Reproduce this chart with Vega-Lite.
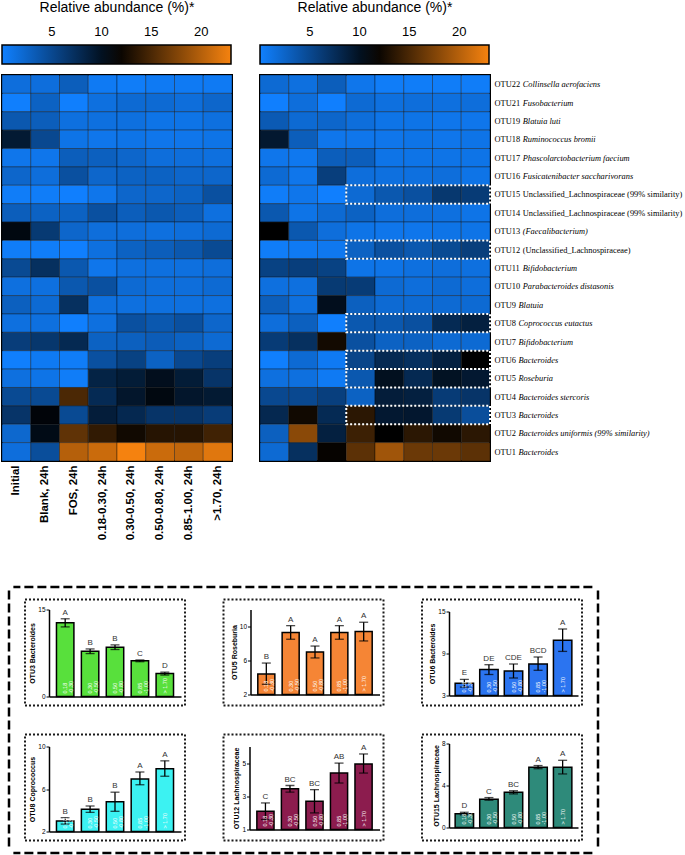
{
  "$schema": "https://vega.github.io/schema/vega-lite/v6.json",
  "background": "white",
  "padding": {"left": 0, "top": 0, "right": 0, "bottom": 0},
  "config": {
    "font": "Liberation Sans",
    "view": {"stroke": null},
    "axis": {"labelColor": "black", "titleColor": "black", "grid": false},
    "legend": {"labelColor": "black", "titleColor": "black"}
  },
  "datasets": {
    "heat": [
      {"lab":"OTU22 Collinsella aerofaciens","t":"24h","c1":1.6,"c2":1.6,"c3":3.05,"c4":0.54,"c5":0.3,"c6":0.54,"c7":0.54,"c8":0.54},
      {"lab":"OTU21 Fusobacterium","t":"24h","c1":0.1,"c2":2.7,"c3":0.1,"c4":1.44,"c5":1.98,"c6":1.98,"c7":1.62,"c8":2.34},
      {"lab":"OTU19 Blatuia luti","t":"24h","c1":3.6,"c2":3.05,"c3":1.44,"c4":1.44,"c5":1.44,"c6":1.08,"c7":1.08,"c8":1.44},
      {"lab":"OTU18 Ruminococcus bromii","t":"24h","c1":9.2,"c2":5.0,"c3":1.08,"c4":0.9,"c5":1.08,"c6":0.9,"c7":0.9,"c8":1.08},
      {"lab":"OTU17 Phascolarctobacterium faecium","t":"24h","c1":0.9,"c2":0.9,"c3":3.05,"c4":2.9,"c5":2.34,"c6":1.62,"c7":1.62,"c8":1.44},
      {"lab":"OTU16 Fusicatenibacter saccharivorans","t":"24h","c1":2.34,"c2":1.62,"c3":4.3,"c4":2.34,"c5":2.7,"c6":2.7,"c7":2.34,"c8":2.34},
      {"lab":"OTU15 Unclassified_Lachnospiraceae (99% similarity)","t":"24h","c1":0.3,"c2":0.3,"c3":0.05,"c4":0.9,"c5":2.34,"c6":2.34,"c7":2.7,"c8":4.3},
      {"lab":"OTU14 Unclassified_Lachnospiraceae (99% similarity)","t":"24h","c1":3.05,"c2":2.7,"c3":2.7,"c4":4.3,"c5":3.05,"c6":3.6,"c7":3.05,"c8":1.44},
      {"lab":"OTU13 (Faecalibacterium)","t":"24h","c1":10.8,"c2":6.3,"c3":2.34,"c4":1.62,"c5":1.62,"c6":1.44,"c7":1.62,"c8":1.98},
      {"lab":"OTU12 (Unclassified_Lachnospiraceae)","t":"24h","c1":0.3,"c2":0.3,"c3":0.05,"c4":1.44,"c5":2.7,"c6":3.05,"c7":3.6,"c8":4.85},
      {"lab":"OTU11 Bifidobacterium","t":"24h","c1":4.85,"c2":7.2,"c3":3.6,"c4":0.9,"c5":1.44,"c6":1.44,"c7":1.44,"c8":1.62},
      {"lab":"OTU10 Parabacteroides distasonis","t":"24h","c1":1.44,"c2":1.44,"c3":3.6,"c4":4.3,"c5":1.98,"c6":1.62,"c7":1.62,"c8":1.98},
      {"lab":"OTU9 Blatuia","t":"24h","c1":2.9,"c2":1.98,"c3":7.2,"c4":1.44,"c5":1.44,"c6":1.44,"c7":1.44,"c8":1.44},
      {"lab":"OTU8 Coprococcus eutactus","t":"24h","c1":1.44,"c2":1.44,"c3":0.1,"c4":1.44,"c5":4.3,"c6":3.6,"c7":4.3,"c8":2.34},
      {"lab":"OTU7 Bifidobacterium","t":"24h","c1":6.0,"c2":6.6,"c3":7.8,"c4":2.7,"c5":2.9,"c6":3.2,"c7":2.7,"c8":1.98},
      {"lab":"OTU6 Bacteroides","t":"24h","c1":0.1,"c2":0.54,"c3":0.3,"c4":4.3,"c5":5.6,"c6":2.7,"c7":5.0,"c8":5.9},
      {"lab":"OTU5 Roseburia","t":"24h","c1":1.44,"c2":1.08,"c3":0.3,"c4":8.4,"c5":9.0,"c6":10.2,"c7":9.0,"c8":6.8},
      {"lab":"OTU4 Bacteroides stercoris","t":"24h","c1":4.85,"c2":4.85,"c3":15.0,"c4":7.7,"c5":9.5,"c6":10.8,"c7":9.5,"c8":9.2},
      {"lab":"OTU3 Bacteroides","t":"24h","c1":6.8,"c2":11.1,"c3":4.85,"c4":8.9,"c5":7.9,"c6":6.8,"c7":6.8,"c8":6.1},
      {"lab":"OTU2 Bacteroides uniformis (99% similarity)","t":"24h","c1":2.2,"c2":10.5,"c3":16.0,"c4":13.8,"c5":12.3,"c6":13.3,"c7":13.3,"c8":14.5},
      {"lab":"OTU1 Bacteroides","t":"24h","c1":1.6,"c2":4.5,"c3":20.0,"c4":21.0,"c5":23.0,"c6":21.0,"c7":20.5,"c8":22.0},
      {"lab":"OTU22 Collinsella aerofaciens","t":"48h","c1":1.98,"c2":1.44,"c3":3.05,"c4":0.9,"c5":0.3,"c6":0.3,"c7":0.3,"c8":0.3},
      {"lab":"OTU21 Fusobacterium","t":"48h","c1":0.05,"c2":1.62,"c3":0.05,"c4":1.98,"c5":1.44,"c6":1.62,"c7":1.44,"c8":1.62},
      {"lab":"OTU19 Blatuia luti","t":"48h","c1":3.4,"c2":1.98,"c3":2.34,"c4":1.62,"c5":1.08,"c6":1.08,"c7":0.9,"c8":0.9},
      {"lab":"OTU18 Ruminococcus bromii","t":"48h","c1":9.35,"c2":3.05,"c3":0.9,"c4":0.9,"c5":0.9,"c6":1.08,"c7":0.9,"c8":1.08},
      {"lab":"OTU17 Phascolarctobacterium faecium","t":"48h","c1":0.9,"c2":0.72,"c3":3.05,"c4":3.05,"c5":1.08,"c6":1.08,"c7":1.08,"c8":1.08},
      {"lab":"OTU16 Fusicatenibacter saccharivorans","t":"48h","c1":1.98,"c2":0.9,"c3":5.9,"c4":1.62,"c5":1.44,"c6":1.44,"c7":1.62,"c8":1.08},
      {"lab":"OTU15 Unclassified_Lachnospiraceae (99% similarity)","t":"48h","c1":0.3,"c2":0.9,"c3":0.05,"c4":1.98,"c5":3.6,"c6":4.3,"c7":6.5,"c8":6.2},
      {"lab":"OTU14 Unclassified_Lachnospiraceae (99% similarity)","t":"48h","c1":3.6,"c2":1.08,"c3":1.98,"c4":2.7,"c5":1.62,"c6":1.62,"c7":1.44,"c8":1.08},
      {"lab":"OTU13 (Faecalibacterium)","t":"48h","c1":11.5,"c2":3.6,"c3":1.62,"c4":1.08,"c5":0.9,"c6":0.9,"c7":1.08,"c8":1.08},
      {"lab":"OTU12 (Unclassified_Lachnospiraceae)","t":"48h","c1":0.3,"c2":0.54,"c3":0.72,"c4":2.7,"c5":4.3,"c6":3.6,"c7":4.85,"c8":5.9},
      {"lab":"OTU11 Bifidobacterium","t":"48h","c1":5.6,"c2":5.9,"c3":5.6,"c4":1.08,"c5":1.08,"c6":1.44,"c7":1.62,"c8":1.44},
      {"lab":"OTU10 Parabacteroides distasonis","t":"48h","c1":1.44,"c2":1.44,"c3":6.3,"c4":6.2,"c5":1.98,"c6":1.62,"c7":1.98,"c8":1.62},
      {"lab":"OTU9 Blatuia","t":"48h","c1":3.05,"c2":1.44,"c3":10.2,"c4":2.9,"c5":1.98,"c6":1.98,"c7":1.98,"c8":1.98},
      {"lab":"OTU8 Coprococcus eutactus","t":"48h","c1":1.62,"c2":2.9,"c3":0.1,"c4":3.6,"c5":3.6,"c6":4.3,"c7":7.7,"c8":8.6},
      {"lab":"OTU7 Bifidobacterium","t":"48h","c1":6.2,"c2":7.2,"c3":12.4,"c4":4.3,"c5":2.7,"c6":2.7,"c7":1.98,"c8":1.98},
      {"lab":"OTU6 Bacteroides","t":"48h","c1":0.1,"c2":1.98,"c3":0.54,"c4":5.3,"c5":7.8,"c6":7.2,"c7":8.6,"c8":11.5},
      {"lab":"OTU5 Roseburia","t":"48h","c1":1.44,"c2":1.44,"c3":0.54,"c4":3.6,"c5":10.1,"c6":7.8,"c7":9.9,"c8":9.3},
      {"lab":"OTU4 Bacteroides stercoris","t":"48h","c1":5.0,"c2":5.0,"c3":5.8,"c4":2.7,"c5":8.9,"c6":8.6,"c7":6.2,"c8":6.8},
      {"lab":"OTU3 Bacteroides","t":"48h","c1":7.9,"c2":12.3,"c3":7.7,"c4":13.5,"c5":9.3,"c6":9.4,"c7":6.3,"c8":4.5},
      {"lab":"OTU2 Bacteroides uniformis (99% similarity)","t":"48h","c1":2.9,"c2":18.0,"c3":8.6,"c4":14.3,"c5":11.5,"c6":13.5,"c7":12.3,"c8":13.5},
      {"lab":"OTU1 Bacteroides","t":"48h","c1":2.0,"c2":7.2,"c3":11.8,"c4":15.8,"c5":19.0,"c6":16.5,"c7":16.5,"c8":15.8}
    ],
    "boxes": [
      {"lab":"OTU15 Unclassified_Lachnospiraceae (99% similarity)","from":"c4","to":"c8"},
      {"lab":"OTU12 (Unclassified_Lachnospiraceae)","from":"c4","to":"c8"},
      {"lab":"OTU8 Coprococcus eutactus","from":"c4","to":"c8"},
      {"lab":"OTU6 Bacteroides","from":"c4","to":"c8"},
      {"lab":"OTU5 Roseburia","from":"c4","to":"c8"},
      {"lab":"OTU3 Bacteroides","from":"c4","to":"c8"}
    ],
    "frame": [{"edge": 0}],
    "bars": [
      {"otu":"OTU3","g":"0.18-0.30","lbl":"0.18\n-0.30","mean":12.7,"lo":12.0,"hi":13.4,"sig":"A"},
      {"otu":"OTU3","g":"0.30-0.50","lbl":"0.30\n-0.50","mean":7.8,"lo":7.4,"hi":8.2,"sig":"B"},
      {"otu":"OTU3","g":"0.50-0.80","lbl":"0.50\n-0.80","mean":8.5,"lo":8.1,"hi":8.9,"sig":"B"},
      {"otu":"OTU3","g":"0.85-1.00","lbl":"0.85\n-1.00","mean":6.15,"lo":6.0,"hi":6.3,"sig":"C"},
      {"otu":"OTU3","g":">1.70","lbl":"> 1.70","mean":3.95,"lo":3.7,"hi":4.2,"sig":"D"},
      {"otu":"OTU5","g":"0.18-0.30","lbl":"0.18\n-0.30","mean":4.4,"lo":3.2,"hi":5.7,"sig":"B"},
      {"otu":"OTU5","g":"0.30-0.50","lbl":"0.30\n-0.50","mean":9.3,"lo":8.5,"hi":10.1,"sig":"A"},
      {"otu":"OTU5","g":"0.50-0.80","lbl":"0.50\n-0.80","mean":7.0,"lo":6.3,"hi":7.7,"sig":"A"},
      {"otu":"OTU5","g":"0.85-1.00","lbl":"0.85\n-1.00","mean":9.3,"lo":8.5,"hi":10.1,"sig":"A"},
      {"otu":"OTU5","g":">1.70","lbl":"> 1.70","mean":9.4,"lo":8.3,"hi":10.5,"sig":"A"},
      {"otu":"OTU6","g":"0.18-0.30","lbl":"0.18\n-0.30","mean":4.75,"lo":4.2,"hi":5.3,"sig":"E"},
      {"otu":"OTU6","g":"0.30-0.50","lbl":"0.30\n-0.50","mean":6.7,"lo":6.0,"hi":7.4,"sig":"DE"},
      {"otu":"OTU6","g":"0.50-0.80","lbl":"0.50\n-0.80","mean":6.5,"lo":5.5,"hi":7.5,"sig":"CDE"},
      {"otu":"OTU6","g":"0.85-1.00","lbl":"0.85\n-1.00","mean":7.5,"lo":6.6,"hi":8.5,"sig":"BCD"},
      {"otu":"OTU6","g":">1.70","lbl":"> 1.70","mean":10.9,"lo":9.3,"hi":12.5,"sig":"A"},
      {"otu":"OTU8","g":"0.18-0.30","lbl":"0.18\n-0.30","mean":3.0,"lo":2.7,"hi":3.3,"sig":"B"},
      {"otu":"OTU8","g":"0.30-0.50","lbl":"0.30\n-0.50","mean":4.1,"lo":3.8,"hi":4.4,"sig":"B"},
      {"otu":"OTU8","g":"0.50-0.80","lbl":"0.50\n-0.80","mean":4.8,"lo":3.9,"hi":5.7,"sig":"B"},
      {"otu":"OTU8","g":"0.85-1.00","lbl":"0.85\n-1.00","mean":6.95,"lo":6.4,"hi":7.6,"sig":"A"},
      {"otu":"OTU8","g":">1.70","lbl":"> 1.70","mean":7.9,"lo":7.2,"hi":8.65,"sig":"A"},
      {"otu":"OTU12","g":"0.18-0.30","lbl":"0.18\n-0.30","mean":2.1,"lo":1.6,"hi":2.6,"sig":"C"},
      {"otu":"OTU12","g":"0.30-0.50","lbl":"0.30\n-0.50","mean":3.45,"lo":3.25,"hi":3.65,"sig":"BC"},
      {"otu":"OTU12","g":"0.50-0.80","lbl":"0.50\n-0.80","mean":2.7,"lo":2.0,"hi":3.4,"sig":"BC"},
      {"otu":"OTU12","g":"0.85-1.00","lbl":"0.85\n-1.00","mean":4.4,"lo":3.8,"hi":5.0,"sig":"AB"},
      {"otu":"OTU12","g":">1.70","lbl":"> 1.70","mean":4.95,"lo":4.4,"hi":5.55,"sig":"A"},
      {"otu":"OTU15","g":"0.18-0.30","lbl":"0.18\n-0.30","mean":1.3,"lo":1.2,"hi":1.45,"sig":"D"},
      {"otu":"OTU15","g":"0.30-0.50","lbl":"0.30\n-0.50","mean":2.7,"lo":2.6,"hi":2.85,"sig":"C"},
      {"otu":"OTU15","g":"0.50-0.80","lbl":"0.50\n-0.80","mean":3.35,"lo":3.2,"hi":3.5,"sig":"BC"},
      {"otu":"OTU15","g":"0.85-1.00","lbl":"0.85\n-1.00","mean":5.75,"lo":5.6,"hi":5.9,"sig":"A"},
      {"otu":"OTU15","g":">1.70","lbl":"> 1.70","mean":5.75,"lo":5.1,"hi":6.4,"sig":"A"}
    ]
  },
  "spacing": 44,
  "vconcat": [
    {
      "hconcat": [
        {
          "width": 230, "height": 386,
          "view": {"stroke": "black", "strokeWidth": 2},
          "data": {"name": "heat"},
          "transform": [{"filter": "datum.t == '24h'"}, {"fold": ["c1","c2","c3","c4","c5","c6","c7","c8"], "as": ["c", "v"]}],
          "mark": {"type": "rect", "stroke": "black", "strokeWidth": 0.8, "strokeOpacity": 0.45},
          "encoding": {
            "x": {"field": "c", "type": "nominal", "scale": {"domain": ["c1","c2","c3","c4","c5","c6","c7","c8"], "paddingInner": 0, "paddingOuter": 0},
                  "axis": {"title": null, "labelAngle": 270, "labelFontWeight": "bold", "labelFontSize": 11.5, "labelPadding": 4, "ticks": false, "domain": false,
                           "labelExpr": "['Initial','Blank, 24h','FOS, 24h','0.18-0.30, 24h','0.30-0.50, 24h','0.50-0.80, 24h','0.85-1.00, 24h','>1.70, 24h'][toNumber(slice(datum.value, 1)) - 1]"}},
            "y": {"field": "lab", "type": "nominal", "scale": {"domain": ["OTU22 Collinsella aerofaciens","OTU21 Fusobacterium","OTU19 Blatuia luti","OTU18 Ruminococcus bromii","OTU17 Phascolarctobacterium faecium","OTU16 Fusicatenibacter saccharivorans","OTU15 Unclassified_Lachnospiraceae (99% similarity)","OTU14 Unclassified_Lachnospiraceae (99% similarity)","OTU13 (Faecalibacterium)","OTU12 (Unclassified_Lachnospiraceae)","OTU11 Bifidobacterium","OTU10 Parabacteroides distasonis","OTU9 Blatuia","OTU8 Coprococcus eutactus","OTU7 Bifidobacterium","OTU6 Bacteroides","OTU5 Roseburia","OTU4 Bacteroides stercoris","OTU3 Bacteroides","OTU2 Bacteroides uniformis (99% similarity)","OTU1 Bacteroides"], "paddingInner": 0, "paddingOuter": 0}, "axis": null},
            "color": {"field": "v", "type": "quantitative",
                      "scale": {"domain": [0, 11.5, 23], "range": ["#1080ff", "#000000", "#f5820f"], "interpolate": "rgb"},
                      "legend": {"orient": "top", "direction": "horizontal", "title": "Relative abundance (%)*", "titleFontSize": 14, "titleFontWeight": "normal", "titleAnchor": "middle", "titlePadding": 30, "gradientLength": 229, "gradientThickness": 19, "gradientStrokeColor": "black", "gradientStrokeWidth": 1.5, "values": [5, 10, 15, 20], "labelFontSize": 13, "labelOffset": -38, "offset": 10, "labelOverlap": false}}
          }
        },
        {
          "width": 230, "height": 386,
          "view": {"stroke": "black", "strokeWidth": 2},
          "layer": [
            {
              "data": {"name": "heat"},
              "transform": [{"filter": "datum.t == '48h'"}, {"fold": ["c1","c2","c3","c4","c5","c6","c7","c8"], "as": ["c", "v"]}],
              "mark": {"type": "rect", "stroke": "black", "strokeWidth": 0.8, "strokeOpacity": 0.45},
              "encoding": {
                "x": {"field": "c", "type": "nominal", "scale": {"domain": ["c1","c2","c3","c4","c5","c6","c7","c8"], "paddingInner": 0, "paddingOuter": 0},
                      "axis": {"title": null, "labelAngle": 270, "labelFontWeight": "bold", "labelFontSize": 11.5, "labelPadding": 4, "ticks": false, "domain": false,
                               "labelExpr": "['Initial','Blank, 48h','FOS, 48h','0.18-0.30, 48h','0.30-0.50, 48h','0.50-0.80, 48h','0.85-1.00, 48h','>1.70, 48h'][toNumber(slice(datum.value, 1)) - 1]"}},
                "y": {"field": "lab", "type": "nominal", "scale": {"domain": ["OTU22 Collinsella aerofaciens","OTU21 Fusobacterium","OTU19 Blatuia luti","OTU18 Ruminococcus bromii","OTU17 Phascolarctobacterium faecium","OTU16 Fusicatenibacter saccharivorans","OTU15 Unclassified_Lachnospiraceae (99% similarity)","OTU14 Unclassified_Lachnospiraceae (99% similarity)","OTU13 (Faecalibacterium)","OTU12 (Unclassified_Lachnospiraceae)","OTU11 Bifidobacterium","OTU10 Parabacteroides distasonis","OTU9 Blatuia","OTU8 Coprococcus eutactus","OTU7 Bifidobacterium","OTU6 Bacteroides","OTU5 Roseburia","OTU4 Bacteroides stercoris","OTU3 Bacteroides","OTU2 Bacteroides uniformis (99% similarity)","OTU1 Bacteroides"], "paddingInner": 0, "paddingOuter": 0},
                      "axis": {"orient": "right", "title": null, "ticks": false, "domain": false, "labelFont": "Liberation Serif", "labelFontSize": 8.4, "labelPadding": 4, "labelLimit": 400, "labelExpr": "split(datum.value, ' ')[0]"}},
                "color": {"field": "v", "type": "quantitative",
                          "scale": {"domain": [0, 11.5, 23], "range": ["#1080ff", "#000000", "#f5820f"], "interpolate": "rgb"},
                          "legend": {"orient": "top", "direction": "horizontal", "title": "Relative abundance (%)*", "titleFontSize": 14, "titleFontWeight": "normal", "titleAnchor": "middle", "titlePadding": 30, "gradientLength": 229, "gradientThickness": 19, "gradientStrokeColor": "black", "gradientStrokeWidth": 1.5, "values": [5, 10, 15, 20], "labelFontSize": 13, "labelOffset": -38, "offset": 10, "labelOverlap": false}}
              }
            },
            {
              "data": {"name": "boxes"},
              "mark": {"type": "rect", "fillOpacity": 0, "stroke": "white", "strokeWidth": 2, "strokeDash": [2, 2]},
              "encoding": {
                "x": {"field": "from", "type": "nominal", "bandPosition": 0, "axis": null},
                "x2": {"field": "to", "bandPosition": 1},
                "y": {"field": "lab", "type": "nominal",
                      "axis": {"orient": "right", "title": null, "ticks": false, "domain": false, "labelFont": "Liberation Serif", "labelFontSize": 8.4, "labelPadding": 32.2, "labelLimit": 400,
                               "labelFontStyle": {"condition": {"test": "indexof(datum.value, 'Unclassified') >= 0", "value": "normal"}, "value": "italic"},
                               "labelExpr": "length(split(datum.value, ' ')[0]) == 5 ? slice(datum.value, 6) : ''"}}
              }
            },
            {
              "data": {"name": "boxes"},
              "mark": {"type": "rect", "opacity": 0},
              "encoding": {
                "x": {"field": "from", "type": "nominal", "bandPosition": 0, "axis": null},
                "x2": {"field": "to", "bandPosition": 1},
                "y": {"field": "lab", "type": "nominal",
                      "axis": {"orient": "right", "title": null, "ticks": false, "domain": false, "labelFont": "Liberation Serif", "labelFontSize": 8.4, "labelPadding": 28, "labelLimit": 400, "labelFontStyle": "italic",
                               "labelExpr": "length(split(datum.value, ' ')[0]) == 4 ? slice(datum.value, 5) : ''"}}
              }
            }
          ],
          "resolve": {"axis": {"y": "independent"}}
        }
      ],
      "spacing": 24,
      "resolve": {"scale": {"color": "independent"}, "legend": {"color": "independent"}}
    },
    {
      "spacing": 0,
      "center": true,
      "vconcat": [
        {"width": 579, "height": 1, "data": {"name": "frame"}, "mark": {"type": "rule", "color": "black", "strokeWidth": 2.5, "strokeDash": [9, 4]},
         "encoding": {"y": {"field": "edge", "type": "quantitative", "scale": {"domain": [0, 1]}, "axis": null}}},
        {
          "spacing": 13,
          "center": true,
          "hconcat": [
            {"width": 7, "height": 259, "data": {"name": "frame"}, "mark": {"type": "rule", "color": "black", "strokeWidth": 2.5, "strokeDash": [9, 4]},
             "encoding": {"x": {"datum": 1, "type": "quantitative", "scale": {"domain": [0, 1]}, "axis": null}}},
            {
              "spacing": 27,
              "vconcat": [
                {
                  "spacing": 36.5,
                  "hconcat": [
                    {
                      "width": 160, "height": 106,
                      "view": {"stroke": "#1a1a1a", "strokeWidth": 2, "strokeDash": [2, 2]},
                      "data": {"name": "bars"},
                      "transform": [{"filter": "datum.otu == 'OTU3'"}],
                      "encoding": {"x": {"field": "g", "type": "nominal", "scale": {"domain": ["0.18-0.30","0.30-0.50","0.50-0.80","0.85-1.00",">1.70"], "range": [24, 156], "paddingInner": 0.3, "paddingOuter": 0.3}, "axis": {"orient": "bottom", "offset": -9, "labels": false, "ticks": false, "title": null, "domainColor": "black", "domainWidth": 1.5}}},
                      "layer": [
                        {"mark": {"type": "bar", "color": "#58e03c", "stroke": "black", "strokeWidth": 1.5},
                         "encoding": {"y": {"field": "mean", "type": "quantitative", "title": "OTU3 Bacteroides", "scale": {"domain": [0, 15], "range": [97, 10], "nice": false, "zero": false},
                                            "axis": {"values": [0, 5, 10, 15], "offset": -24, "tickSize": 3, "tickColor": "black", "domainColor": "black", "domainWidth": 1.5, "labelFontSize": 6.5, "labelPadding": 1, "titleFontSize": 7, "titleFontWeight": "bold", "titlePadding": 2}},
                                      "y2": {"datum": 0}}},
                        {"mark": {"type": "errorbar", "ticks": {"size": 9}, "color": "black", "thickness": 1.3}, "encoding": {"y": {"field": "lo", "type": "quantitative", "title": "OTU3 Bacteroides"}, "y2": {"field": "hi"}}},
                        {"mark": {"type": "text", "dy": -6, "fontSize": 8, "color": "#333"}, "encoding": {"y": {"field": "hi", "type": "quantitative", "title": "OTU3 Bacteroides"}, "text": {"field": "sig"}}},
                        {"mark": {"type": "text", "angle": 270, "align": "left", "baseline": "middle", "dx": 3, "fontSize": 5.5, "color": "white", "lineBreak": "\n", "lineHeight": 6}, "encoding": {"y": {"datum": 0}, "text": {"field": "lbl"}}}
                      ]
                    },
                    {
                      "width": 160, "height": 106,
                      "view": {"stroke": "#1a1a1a", "strokeWidth": 2, "strokeDash": [2, 2]},
                      "data": {"name": "bars"},
                      "transform": [{"filter": "datum.otu == 'OTU5'"}],
                      "encoding": {"x": {"field": "g", "type": "nominal", "scale": {"domain": ["0.18-0.30","0.30-0.50","0.50-0.80","0.85-1.00",">1.70"], "range": [27, 156], "paddingInner": 0.3, "paddingOuter": 0.3}, "axis": {"orient": "bottom", "offset": -11, "labels": false, "ticks": false, "title": null, "domainColor": "black", "domainWidth": 1.5}}},
                      "layer": [
                        {"mark": {"type": "bar", "color": "#f58535", "stroke": "black", "strokeWidth": 1.5},
                         "encoding": {"y": {"field": "mean", "type": "quantitative", "title": "OTU5 Roseburia", "scale": {"domain": [2, 12], "range": [95, 10], "nice": false, "zero": false},
                                            "axis": {"values": [2, 4, 6, 8, 10, 12], "offset": -27, "tickSize": 3, "tickColor": "black", "domainColor": "black", "domainWidth": 1.5, "labelFontSize": 6.5, "labelPadding": 1, "titleFontSize": 7, "titleFontWeight": "bold", "titlePadding": 2}},
                                      "y2": {"datum": 2}}},
                        {"mark": {"type": "errorbar", "ticks": {"size": 9}, "color": "black", "thickness": 1.3}, "encoding": {"y": {"field": "lo", "type": "quantitative", "title": "OTU5 Roseburia"}, "y2": {"field": "hi"}}},
                        {"mark": {"type": "text", "dy": -6, "fontSize": 8, "color": "#333"}, "encoding": {"y": {"field": "hi", "type": "quantitative", "title": "OTU5 Roseburia"}, "text": {"field": "sig"}}},
                        {"mark": {"type": "text", "angle": 270, "align": "left", "baseline": "middle", "dx": 3, "fontSize": 5.5, "color": "white", "lineBreak": "\n", "lineHeight": 6}, "encoding": {"y": {"datum": 2}, "text": {"field": "lbl"}}}
                      ]
                    },
                    {
                      "width": 160, "height": 106,
                      "view": {"stroke": "#1a1a1a", "strokeWidth": 2, "strokeDash": [2, 2]},
                      "data": {"name": "bars"},
                      "transform": [{"filter": "datum.otu == 'OTU6'"}],
                      "encoding": {"x": {"field": "g", "type": "nominal", "scale": {"domain": ["0.18-0.30","0.30-0.50","0.50-0.80","0.85-1.00",">1.70"], "range": [27, 156], "paddingInner": 0.25, "paddingOuter": 0.25}, "axis": {"orient": "bottom", "offset": -10, "labels": false, "ticks": false, "title": null, "domainColor": "black", "domainWidth": 1.5}}},
                      "layer": [
                        {"mark": {"type": "bar", "color": "#2b74f0", "stroke": "black", "strokeWidth": 1.5},
                         "encoding": {"y": {"field": "mean", "type": "quantitative", "title": "OTU6 Bacteroides", "scale": {"domain": [3, 15], "range": [96, 12], "nice": false, "zero": false},
                                            "axis": {"values": [3, 6, 9, 12, 15], "offset": -27, "tickSize": 3, "tickColor": "black", "domainColor": "black", "domainWidth": 1.5, "labelFontSize": 6.5, "labelPadding": 1, "titleFontSize": 7, "titleFontWeight": "bold", "titlePadding": 2}},
                                      "y2": {"datum": 3}}},
                        {"mark": {"type": "errorbar", "ticks": {"size": 9}, "color": "black", "thickness": 1.3}, "encoding": {"y": {"field": "lo", "type": "quantitative", "title": "OTU6 Bacteroides"}, "y2": {"field": "hi"}}},
                        {"mark": {"type": "text", "dy": -6, "fontSize": 8, "color": "#333"}, "encoding": {"y": {"field": "hi", "type": "quantitative", "title": "OTU6 Bacteroides"}, "text": {"field": "sig"}}},
                        {"mark": {"type": "text", "angle": 270, "align": "left", "baseline": "middle", "dx": 3, "fontSize": 5.5, "color": "white", "lineBreak": "\n", "lineHeight": 6}, "encoding": {"y": {"datum": 3}, "text": {"field": "lbl"}}}
                      ]
                    }
                  ]
                },
                {
                  "spacing": 36.5,
                  "hconcat": [
                    {
                      "width": 160, "height": 106,
                      "view": {"stroke": "#1a1a1a", "strokeWidth": 2, "strokeDash": [2, 2]},
                      "data": {"name": "bars"},
                      "transform": [{"filter": "datum.otu == 'OTU8'"}],
                      "encoding": {"x": {"field": "g", "type": "nominal", "scale": {"domain": ["0.18-0.30","0.30-0.50","0.50-0.80","0.85-1.00",">1.70"], "range": [24, 156], "paddingInner": 0.3, "paddingOuter": 0.3}, "axis": {"orient": "bottom", "offset": -9, "labels": false, "ticks": false, "title": null, "domainColor": "black", "domainWidth": 1.5}}},
                      "layer": [
                        {"mark": {"type": "bar", "color": "#3cf2f2", "stroke": "black", "strokeWidth": 1.5},
                         "encoding": {"y": {"field": "mean", "type": "quantitative", "title": "OTU8 Coprococcus", "scale": {"domain": [2, 10], "range": [97, 12], "nice": false, "zero": false},
                                            "axis": {"values": [2, 4, 6, 8, 10], "offset": -24, "tickSize": 3, "tickColor": "black", "domainColor": "black", "domainWidth": 1.5, "labelFontSize": 6.5, "labelPadding": 1, "titleFontSize": 7, "titleFontWeight": "bold", "titlePadding": 2}},
                                      "y2": {"datum": 2}}},
                        {"mark": {"type": "errorbar", "ticks": {"size": 9}, "color": "black", "thickness": 1.3}, "encoding": {"y": {"field": "lo", "type": "quantitative", "title": "OTU8 Coprococcus"}, "y2": {"field": "hi"}}},
                        {"mark": {"type": "text", "dy": -6, "fontSize": 8, "color": "#333"}, "encoding": {"y": {"field": "hi", "type": "quantitative", "title": "OTU8 Coprococcus"}, "text": {"field": "sig"}}},
                        {"mark": {"type": "text", "angle": 270, "align": "left", "baseline": "middle", "dx": 3, "fontSize": 5.5, "color": "white", "lineBreak": "\n", "lineHeight": 6}, "encoding": {"y": {"datum": 2}, "text": {"field": "lbl"}}}
                      ]
                    },
                    {
                      "width": 160, "height": 106,
                      "view": {"stroke": "#1a1a1a", "strokeWidth": 2, "strokeDash": [2, 2]},
                      "data": {"name": "bars"},
                      "transform": [{"filter": "datum.otu == 'OTU12'"}],
                      "encoding": {"x": {"field": "g", "type": "nominal", "scale": {"domain": ["0.18-0.30","0.30-0.50","0.50-0.80","0.85-1.00",">1.70"], "range": [26, 156], "paddingInner": 0.3, "paddingOuter": 0.3}, "axis": {"orient": "bottom", "offset": -11, "labels": false, "ticks": false, "title": null, "domainColor": "black", "domainWidth": 1.5}}},
                      "layer": [
                        {"mark": {"type": "bar", "color": "#8c1c4e", "stroke": "black", "strokeWidth": 1.5},
                         "encoding": {"y": {"field": "mean", "type": "quantitative", "title": "OTU12 Lachnospiraceae", "scale": {"domain": [1, 6], "range": [95, 12], "nice": false, "zero": false},
                                            "axis": {"values": [1, 2, 3, 4, 5, 6], "offset": -26, "tickSize": 3, "tickColor": "black", "domainColor": "black", "domainWidth": 1.5, "labelFontSize": 6.5, "labelPadding": 1, "titleFontSize": 7, "titleFontWeight": "bold", "titlePadding": 2}},
                                      "y2": {"datum": 1}}},
                        {"mark": {"type": "errorbar", "ticks": {"size": 9}, "color": "black", "thickness": 1.3}, "encoding": {"y": {"field": "lo", "type": "quantitative", "title": "OTU12 Lachnospiraceae"}, "y2": {"field": "hi"}}},
                        {"mark": {"type": "text", "dy": -6, "fontSize": 8, "color": "#333"}, "encoding": {"y": {"field": "hi", "type": "quantitative", "title": "OTU12 Lachnospiraceae"}, "text": {"field": "sig"}}},
                        {"mark": {"type": "text", "angle": 270, "align": "left", "baseline": "middle", "dx": 3, "fontSize": 5.5, "color": "white", "lineBreak": "\n", "lineHeight": 6}, "encoding": {"y": {"datum": 1}, "text": {"field": "lbl"}}}
                      ]
                    },
                    {
                      "width": 160, "height": 106,
                      "view": {"stroke": "#1a1a1a", "strokeWidth": 2, "strokeDash": [2, 2]},
                      "data": {"name": "bars"},
                      "transform": [{"filter": "datum.otu == 'OTU15'"}],
                      "encoding": {"x": {"field": "g", "type": "nominal", "scale": {"domain": ["0.18-0.30","0.30-0.50","0.50-0.80","0.85-1.00",">1.70"], "range": [27, 156], "paddingInner": 0.25, "paddingOuter": 0.25}, "axis": {"orient": "bottom", "offset": -13, "labels": false, "ticks": false, "title": null, "domainColor": "black", "domainWidth": 1.5}}},
                      "layer": [
                        {"mark": {"type": "bar", "color": "#2e8a7a", "stroke": "black", "strokeWidth": 1.5},
                         "encoding": {"y": {"field": "mean", "type": "quantitative", "title": "OTU15 Lachnospiraceae", "scale": {"domain": [0, 8], "range": [93, 9], "nice": false, "zero": false},
                                            "axis": {"values": [0, 2, 4, 6, 8], "offset": -27, "tickSize": 3, "tickColor": "black", "domainColor": "black", "domainWidth": 1.5, "labelFontSize": 6.5, "labelPadding": 1, "titleFontSize": 7, "titleFontWeight": "bold", "titlePadding": 2}},
                                      "y2": {"datum": 0}}},
                        {"mark": {"type": "errorbar", "ticks": {"size": 9}, "color": "black", "thickness": 1.3}, "encoding": {"y": {"field": "lo", "type": "quantitative", "title": "OTU15 Lachnospiraceae"}, "y2": {"field": "hi"}}},
                        {"mark": {"type": "text", "dy": -6, "fontSize": 8, "color": "#333"}, "encoding": {"y": {"field": "hi", "type": "quantitative", "title": "OTU15 Lachnospiraceae"}, "text": {"field": "sig"}}},
                        {"mark": {"type": "text", "angle": 270, "align": "left", "baseline": "middle", "dx": 3, "fontSize": 5.5, "color": "white", "lineBreak": "\n", "lineHeight": 6}, "encoding": {"y": {"datum": 0}, "text": {"field": "lbl"}}}
                      ]
                    }
                  ]
                }
              ]
            },
            {"width": 7, "height": 259, "data": {"name": "frame"}, "mark": {"type": "rule", "color": "black", "strokeWidth": 2.5, "strokeDash": [9, 4]},
             "encoding": {"x": {"field": "edge", "type": "quantitative", "scale": {"domain": [0, 1]}, "axis": null}}}
          ]
        },
        {"width": 579, "height": 1, "data": {"name": "frame"}, "mark": {"type": "rule", "color": "black", "strokeWidth": 2.5, "strokeDash": [9, 4]},
         "encoding": {"y": {"field": "edge", "type": "quantitative", "scale": {"domain": [0, 1]}, "axis": null}}}
      ]
    }
  ]
}
